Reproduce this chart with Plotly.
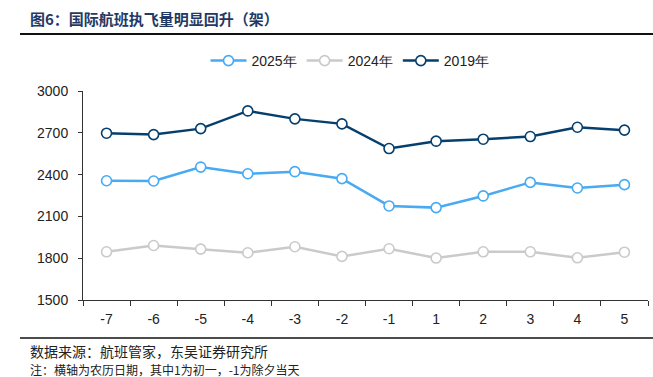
import plotly.graph_objects as go

categories = ["-7", "-6", "-5", "-4", "-3", "-2", "-1", "1", "2", "3", "4", "5"]
y2025 = [2356, 2354, 2454, 2406, 2421, 2371, 2175, 2163, 2247, 2344, 2304, 2328]
y2024 = [1846, 1891, 1865, 1839, 1882, 1813, 1868, 1801, 1846, 1846, 1803, 1843]
y2019 = [2697, 2687, 2730, 2857, 2800, 2764, 2587, 2640, 2654, 2673, 2740, 2719]
y_ticks = [1500, 1800, 2100, 2400, 2700, 3000]

series = [
    ("2025年", y2025, "#47AAF2"),
    ("2024年", y2024, "#CACACA"),
    ("2019年", y2019, "#053F6E"),
]

fig = go.Figure()
for name, vals, col in series:
    fig.add_trace(go.Scatter(
        x=categories, y=vals, name=name, mode="lines+markers",
        line=dict(color=col, width=2.5),
        marker=dict(size=10, color="white", line=dict(color=col, width=1.6)),
    ))

PH = 209
PW = 565
fig.update_layout(
    width=653, height=377,
    margin=dict(l=83, r=5, t=91, b=77, autoexpand=False),
    paper_bgcolor="white", plot_bgcolor="white",
    font=dict(family="Arial, Liberation Sans, sans-serif", size=14, color="#222222"),
    showlegend=True,
    legend=dict(orientation="h", x=(350 - 83) / PW, xanchor="center", y=(300 - 61) / PH, yanchor="middle",
                font=dict(size=14, color="#222222"), itemwidth=36,
                bgcolor="rgba(0,0,0,0)"),
    xaxis=dict(type="category", range=[-0.5, len(categories) - 0.5],
               showline=True, linecolor="#333333", linewidth=1,
               ticks="outside", tickson="boundaries", ticklen=5, tickcolor="#333333",
               ticklabelstandoff=6,
               showgrid=False, tickfont=dict(size=14)),
    yaxis=dict(range=[1500, 3000], tickvals=y_ticks, showline=True, linecolor="#333333",
               linewidth=1, ticks="outside", ticklen=4, tickcolor="#333333",
               ticklabelstandoff=7,
               showgrid=False, zeroline=False, tickfont=dict(size=14)),
)

# title
fig.add_annotation(text="<b>图6：国际航班执飞量明显回升（架）</b>", xref="paper", yref="paper",
                   x=-(83 - 28) / PW, y=(300 - 18) / PH, xanchor="left", yanchor="middle",
                   showarrow=False, font=dict(family="Noto Sans CJK SC", size=15, color="#1F3A66"))
# rules
fig.add_shape(type="line", xref="paper", yref="paper",
              x0=-(83 - 20) / PW, x1=1.01, y0=(300 - 34) / PH, y1=(300 - 34) / PH,
              line=dict(color="#111111", width=2))
fig.add_shape(type="line", xref="paper", yref="paper",
              x0=-(83 - 20) / PW, x1=1.01, y0=-(338 - 300) / PH, y1=-(338 - 300) / PH,
              line=dict(color="#111111", width=1.5))
fig.add_annotation(text="数据来源：航班管家，东吴证券研究所", xref="paper", yref="paper",
                   x=-(83 - 28) / PW, y=-(351 - 300) / PH, xanchor="left", yanchor="middle",
                   showarrow=False, font=dict(family="Noto Sans CJK SC", size=14, color="#222222"))
fig.add_annotation(text="注：横轴为农历日期，其中1为初一，-1为除夕当天", xref="paper", yref="paper",
                   x=-(83 - 28) / PW, y=-(369 - 300) / PH, xanchor="left", yanchor="middle",
                   showarrow=False, font=dict(family="Noto Sans CJK SC", size=12, color="#222222"))

fig.write_html("out.html", config={"displayModeBar": False},
               post_script="document.body.style.margin='0';document.body.style.overflow='hidden';")
